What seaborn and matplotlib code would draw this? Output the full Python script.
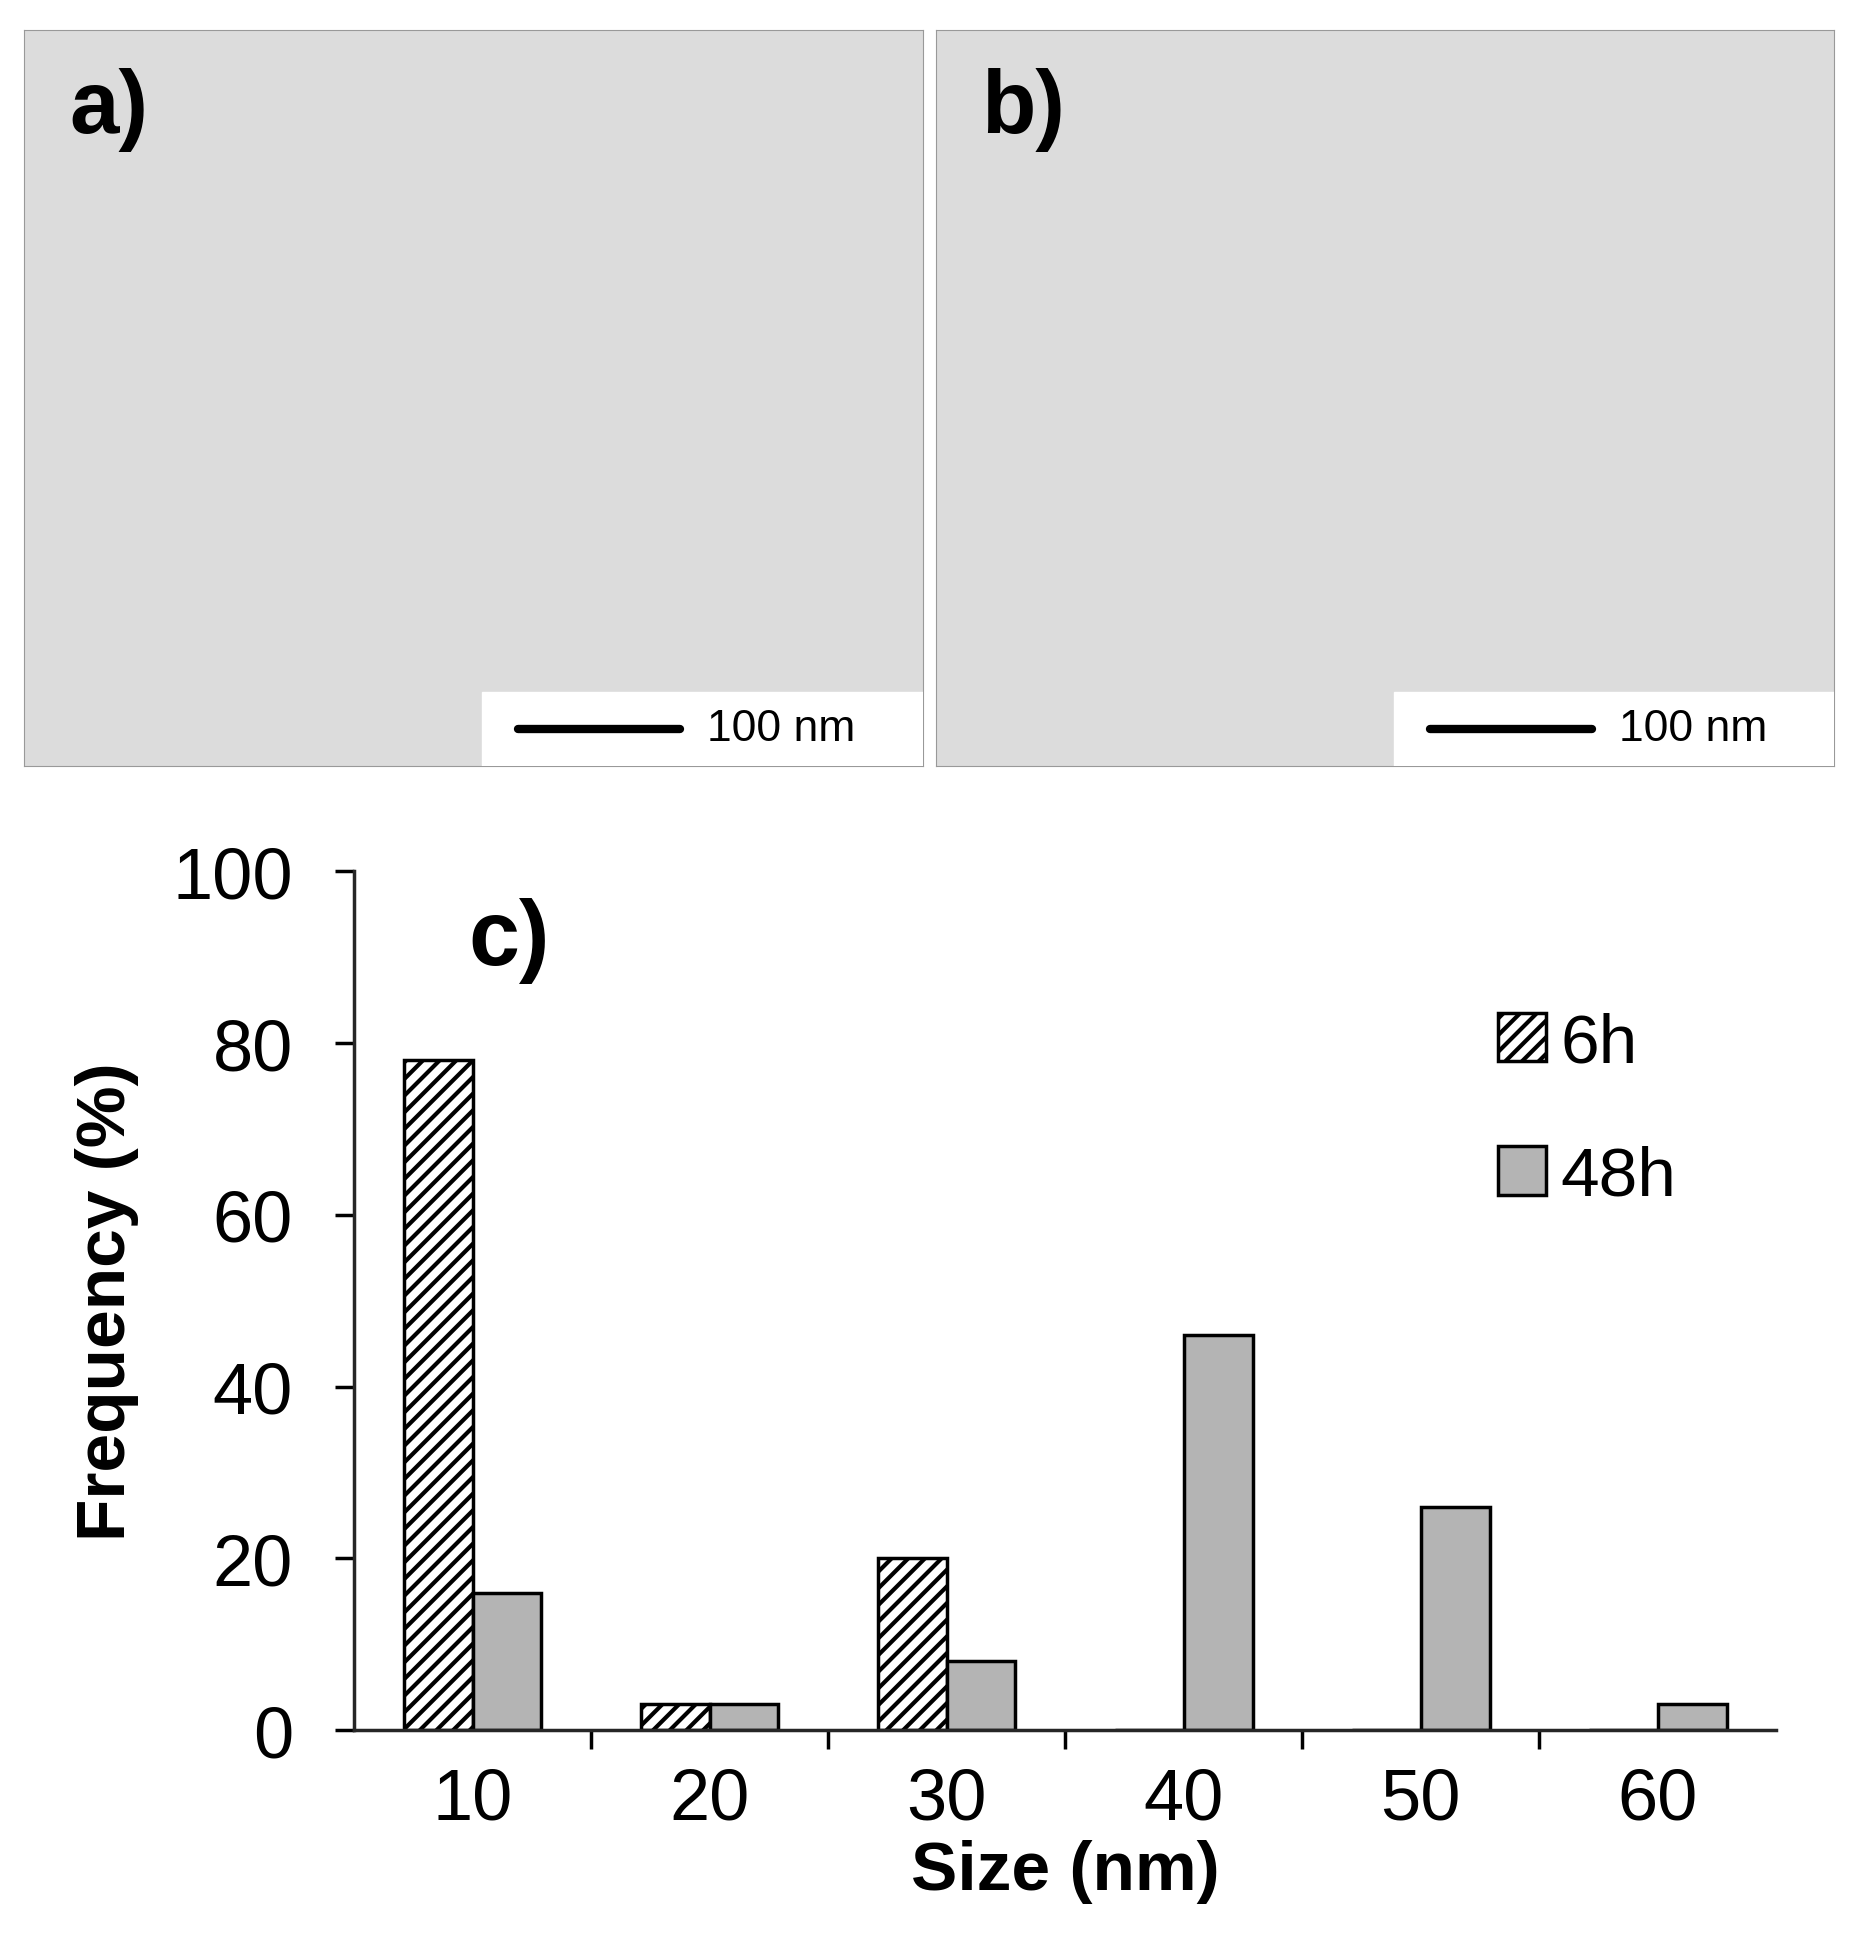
import matplotlib
matplotlib.use("Agg")
import matplotlib.pyplot as plt
import seaborn as sns
import pandas as pd
import numpy as np
from matplotlib.patches import Rectangle, Patch

sizes = ["10", "20", "30", "40", "50", "60"]
freq_6h = [78, 3, 20, 0, 0, 0]
freq_48h = [16, 3, 8, 46, 26, 3]
series = ["6h", "48h"]

df = pd.DataFrame({
    "Size": sizes * 2,
    "Frequency": freq_6h + freq_48h,
    "Series": ["6h"] * 6 + ["48h"] * 6,
})

sns.set_style("white")
plt.rcParams['font.family'] = ['Liberation Sans', 'DejaVu Sans']
plt.rcParams['hatch.linewidth'] = 3
plt.rcParams['text.color'] = 'black'
plt.rcParams['xtick.color'] = 'black'
plt.rcParams['ytick.color'] = 'black'
plt.rcParams['axes.labelcolor'] = 'black'

fig = plt.figure(figsize=(18.64, 19.56), dpi=100)

for (x0, lab) in [(0.013, "a)"), (0.502, "b)")]:
    pax = fig.add_axes([x0, 0.608, 0.482, 0.376])
    pax.set_xlim(0, 1); pax.set_ylim(0, 1)
    pax.set_facecolor("#dcdcdc")
    pax.set_xticks([]); pax.set_yticks([])
    for s in pax.spines.values():
        s.set_color("#999999")
    pax.text(0.05, 0.95, lab, fontsize=64, fontweight="bold", va="top", ha="left")
    pax.add_patch(Rectangle((0.51, 0.0), 0.49, 0.1, color="white", zorder=3))
    pax.plot([0.55, 0.73], [0.05, 0.05], color="black", lw=6, zorder=4)
    pax.text(0.76, 0.05, "100 nm", fontsize=32, va="center", ha="left", zorder=4)

ax = fig.add_axes([0.19, 0.115, 0.763, 0.439])
sns.barplot(data=df, x="Size", y="Frequency", hue="Series", hue_order=series,
            order=sizes, width=0.58, ax=ax, palette=["white", "#b4b4b4"],
            edgecolor="black", linewidth=2.5, legend=False)
n = len(sizes)
for i, p in enumerate(ax.patches[:2 * n]):
    if i < n:
        p.set_hatch("//")
ax.set_xlim(-0.5, n - 0.5)
ax.set_ylim(0, 100)
ax.set_yticks([0, 20, 40, 60, 80, 100])
ax.tick_params(axis="y", labelsize=52, length=14, width=2.5, direction="out", left=True, pad=30)
ax.tick_params(axis="x", labelsize=52, length=0, pad=26)
ax.set_xticks(np.arange(0.5, n - 0.5, 1), minor=True)
ax.tick_params(axis="x", which="minor", length=14, width=2.5, direction="out", bottom=True)
ax.spines["top"].set_visible(False)
ax.spines["right"].set_visible(False)
ax.spines["left"].set_linewidth(2.5)
ax.spines["bottom"].set_linewidth(2.5)
ax.set_xlabel("Size (nm)", fontsize=50, fontweight="bold", labelpad=4)
ax.set_ylabel("Frequency (%)", fontsize=50, fontweight="bold", labelpad=24)
ax.text(0.08, 0.97, "c)", transform=ax.transAxes, fontsize=66, fontweight="bold", va="top")

handles = [Patch(facecolor="white", edgecolor="black", hatch="//", lw=2.5),
           Patch(facecolor="#b4b4b4", edgecolor="black", lw=2.5)]
ax.legend(handles, series, loc="upper left", bbox_to_anchor=(0.76, 0.91), frameon=False,
          fontsize=50, handlelength=0.7, handleheight=0.7, handletextpad=0.2, labelspacing=1.0)

fig.savefig("out.png", dpi=100)
